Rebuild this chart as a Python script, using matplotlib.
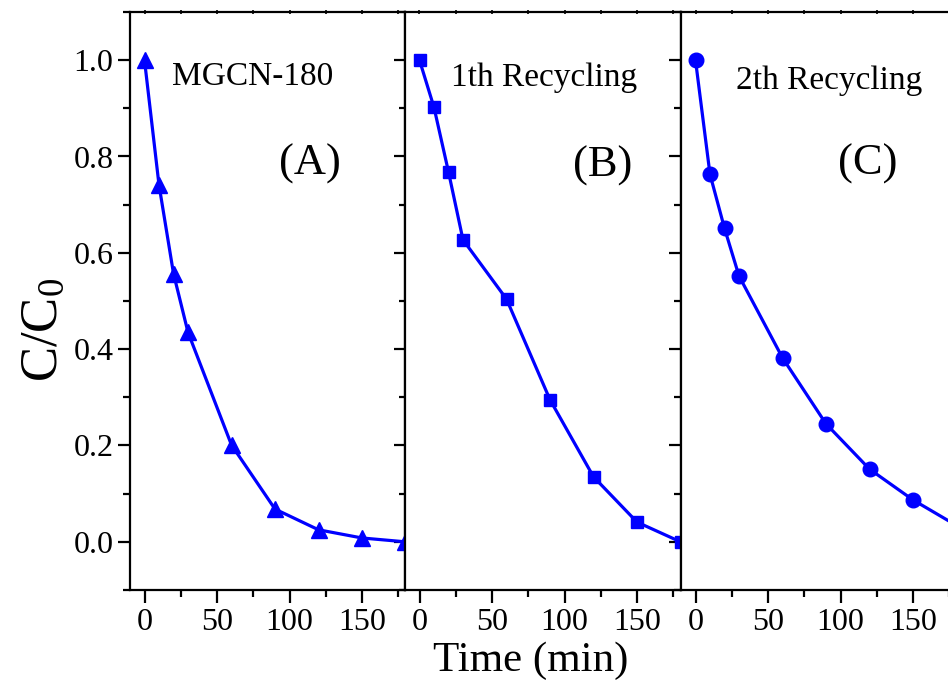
import matplotlib
matplotlib.use("Agg")
import matplotlib.pyplot as plt
from matplotlib.ticker import MultipleLocator, FixedLocator

plt.rcParams['font.family'] = ['Liberation Serif', 'DejaVu Serif']
plt.rcParams['mathtext.fontset'] = 'custom'
plt.rcParams['mathtext.rm'] = 'Liberation Serif'
plt.rcParams['mathtext.it'] = 'Liberation Serif'

# Irradiation time (min) and normalised concentration C/C0 for each run
time_min = [0, 10, 20, 30, 60, 90, 120, 150, 180]
ratio_fresh = [1.0, 0.741, 0.557, 0.435, 0.201, 0.068, 0.025, 0.008, 0.0]
ratio_cycle1 = [1.0, 0.902, 0.768, 0.627, 0.504, 0.295, 0.135, 0.041, 0.0]
ratio_cycle2 = [1.0, 0.763, 0.651, 0.552, 0.382, 0.245, 0.151, 0.087, 0.034]

panel_titles = ["MGCN-180", "1th Recycling", "2th Recycling"]
panel_tags = ["(A)", "(B)", "(C)"]
x_ticks = [0, 50, 100, 150]
y_ticks = [0.0, 0.2, 0.4, 0.6, 0.8, 1.0]

series = [ratio_fresh, ratio_cycle1, ratio_cycle2]
markers = [("^", 12), ("s", 9), ("o", 10.5)]
title_pos = [(19, 0.965), (22, 0.963), (28, 0.958)]
tag_pos = [(114, 0.785), (126, 0.78), (119, 0.785)]

W, H = 948, 683
fig = plt.figure(figsize=(W / 100, H / 100), dpi=100)

bottom = 1 - 590 / H
height = (590 - 12) / H
lefts = [130, 405, 681]
width = 275.5 / W

blue = "#0000FF"
for i in range(3):
    ax = fig.add_axes([lefts[i] / W, bottom, width, height])
    m, ms = markers[i]
    ax.plot(time_min, series[i], color=blue, lw=2.3, marker=m, ms=ms,
            mec=blue, mfc=blue, clip_on=False, zorder=3)
    ax.set_xlim(-10, 180)
    ax.set_ylim(-0.1, 1.1)
    for s in ax.spines.values():
        s.set_linewidth(1.6)

    ax.xaxis.set_major_locator(FixedLocator(x_ticks))
    ax.xaxis.set_minor_locator(MultipleLocator(25))
    ax.yaxis.set_major_locator(FixedLocator(y_ticks))
    ax.yaxis.set_minor_locator(MultipleLocator(0.1))

    ax.tick_params(axis='x', which='major', direction='out', length=9, width=1.6,
                   labelsize=23, pad=4, top=False)
    ax.tick_params(axis='x', which='minor', direction='out', length=5, width=1.6,
                   top=False)
    if i == 0:
        ax.tick_params(axis='y', which='major', direction='out', length=9, width=1.6,
                       labelsize=23, pad=3, left=True, right=False)
        ax.tick_params(axis='y', which='minor', direction='out', length=5, width=1.6,
                       left=True, right=False)
        ax.set_yticklabels([f"{v:.1f}" for v in y_ticks])
    else:
        ax.tick_params(axis='y', which='both', left=False, labelleft=False)

    # inward ticks on the right-hand frame (the last frame runs off the edge)
    if i < 2:
        sec = ax.secondary_yaxis('right')
        sec.spines['right'].set_visible(False)
        sec.yaxis.set_major_locator(FixedLocator(y_ticks))
        sec.yaxis.set_minor_locator(MultipleLocator(0.1))
        sec.tick_params(axis='y', which='major', direction='in', length=9, width=1.6,
                        labelright=False)
        sec.tick_params(axis='y', which='minor', direction='in', length=5, width=1.6,
                        labelright=False)

    # small ticks along the top frame
    top = ax.secondary_xaxis('top')
    top.spines['top'].set_visible(False)
    top.xaxis.set_major_locator(MultipleLocator(25))
    top.tick_params(axis='x', which='major', direction='inout', length=3, width=1.2,
                    labeltop=False)
    top.tick_params(axis='x', which='minor', length=0)

    ax.set_xticklabels([str(v) for v in x_ticks])

    tx, ty = title_pos[i]
    ax.text(tx, ty, panel_titles[i], fontsize=24, ha='left', va='center')
    gx, gy = tag_pos[i]
    ax.text(gx, gy, panel_tags[i], fontsize=32, ha='center', va='center')

fig.text(44 / W, 1 - 330 / H, r"C/C$_0$", rotation=90, fontsize=38,
         ha='center', va='center')
fig.text(531 / W, 1 - 661 / H, "Time (min)", fontsize=31,
         ha='center', va='center')

fig.savefig("out.png", dpi=100)
